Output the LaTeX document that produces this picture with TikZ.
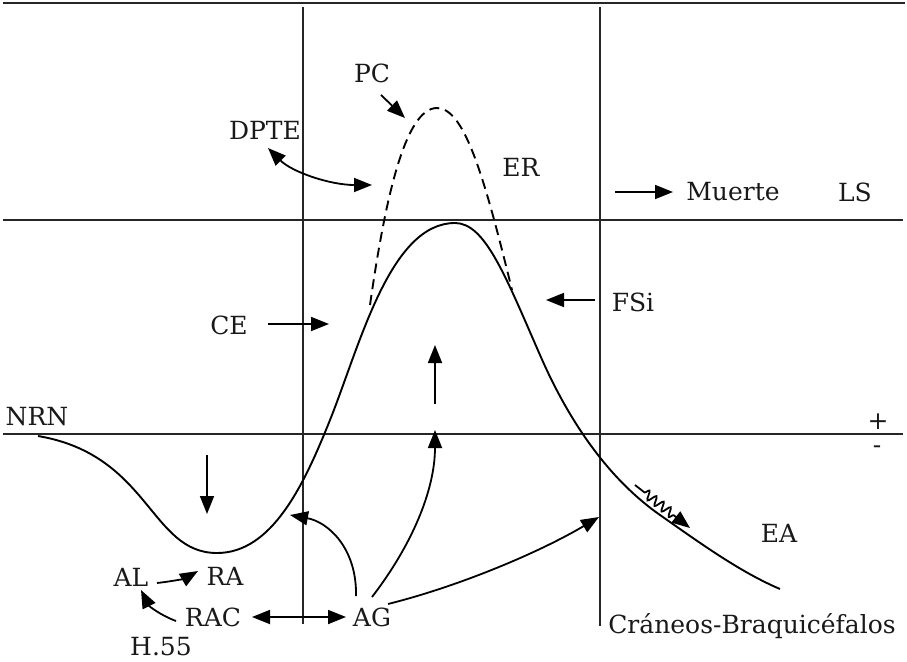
\documentclass[tikz,border=0pt]{standalone}
\usepackage{fontspec}
\setmainfont{DejaVu Serif}
\usetikzlibrary{arrows.meta,decorations.pathmorphing}
\begin{document}
\begin{tikzpicture}[x=1pt,y=-1pt,
  grid/.style={line width=1.8pt,color=black!85},
  crv/.style={line width=1.9pt},
  tip/.tip={Triangle[length=18pt,width=14pt]},
  arr/.style={line width=1.8pt,-tip},
  darr/.style={line width=1.8pt,tip-tip},
  lbl/.style={font=\fontsize{25}{27}\selectfont,inner sep=0pt,text=black!90}]
\useasboundingbox (0,0) rectangle (907,661);
% grid
\draw[grid] (3,3) -- (905,3);
\draw[grid] (3,220) -- (903,220);
\draw[grid] (3,434) -- (903,434);
\draw[grid] (303,7) -- (303,624);
\draw[grid] (600,7) -- (600,626);
% main curve
\draw[crv] (38,436) .. controls (150,455) and (150,553) .. (217,553)
  .. controls (272,553) and (304,485) .. (330,420)
  .. controls (360,345) and (390,223) .. (455,223)
  .. controls (485,223) and (505,275) .. (540,355)
  .. controls (570,424) and (610,480) .. (660,515)
  .. controls (700,543) and (740,572) .. (780,589);
% dashed curve
\draw[crv,dash pattern=on 10pt off 6pt] (370,305) .. controls (385,200) and (405,108) .. (437,108)
  .. controls (465,108) and (485,180) .. (512,290);
% labels
\node[lbl] (NRN) at (37,417) {NRN};
\node[lbl] (plus) at (878,422) {+};
\node[lbl] (minus) at (877,450) {-};
\node[lbl] (PC) at (372,73) {PC};
\node[lbl] (DPTE) at (265,130) {DPTE};
\node[lbl] (ER) at (521,167) {ER};
\node[lbl] (Muerte) at (733,192) {Muerte};
\node[lbl] (LS) at (855,192) {LS};
\node[lbl] (FSi) at (633,302) {FSi};
\node[lbl] (CE) at (229,325) {CE};
\node[lbl] (EA) at (779,533) {EA};
\node[lbl] (AG) at (372,617) {AG};
\node[lbl] (RAC) at (213,617) {RAC};
\node[lbl] (AL) at (131,577) {AL};
\node[lbl] (RA) at (225,576) {RA};
\node[lbl] (H55) at (161,647) {H.55};
\node[lbl] (CB) at (752,626) {Cráneos-Braquicéfalos};
% coordinates
\coordinate (pc1) at (381,95);
\coordinate (pc2) at (405,118);
\coordinate (dp1) at (268,148);
\coordinate (dp2) at (372,185);
\coordinate (mu1) at (615,192);
\coordinate (mu2) at (673,192);
\coordinate (fs1) at (595,300);
\coordinate (fs2) at (546,300);
\coordinate (ce1) at (268,324);
\coordinate (ce2) at (329,324);
\coordinate (up1) at (435,404);
\coordinate (up2) at (435,345);
\coordinate (dn1) at (207,455);
\coordinate (dn2) at (207,514);
\coordinate (ag1) at (356,596);
\coordinate (t1) at (290,515);
\coordinate (ag2) at (372,597);
\coordinate (t2) at (435,430);
\coordinate (ag3) at (388,604);
\coordinate (t3) at (599,517);
\coordinate (rc) at (252,617);
\coordinate (agl) at (346,617);
\coordinate (al1) at (157,583);
\coordinate (ra1) at (198,571);
\coordinate (rc2) at (176,621);
\coordinate (al2) at (141,590);
\coordinate (w1) at (635,485);
\coordinate (w2) at (690,528);
% arrows
\draw[arr] (pc1) -- (pc2);
\draw[darr] (dp1) .. controls (292,172) and (330,185) .. (dp2);
\draw[arr] (mu1) -- (mu2);
\draw[arr] (fs1) -- (fs2);
\draw[arr] (ce1) -- (ce2);
\draw[arr] (up1) -- (up2);
\draw[arr] (dn1) -- (dn2);
\draw[arr] (ag1) .. controls (357,548) and (328,522) .. (t1);
\draw[arr] (ag2) .. controls (412,545) and (435,490) .. (t2);
\draw[arr] (ag3) .. controls (460,586) and (540,552) .. (t3);
\draw[darr] (rc) -- (agl);
\draw[arr] (al1) .. controls (175,581) and (186,578) .. (ra1);
\draw[arr] (rc2) .. controls (160,615) and (149,606) .. (al2);
\draw[arr,decorate,decoration={snake,amplitude=4.5pt,segment length=9pt,pre length=12pt,post length=17pt}] (w1) -- (w2);
\end{tikzpicture}
\end{document}
